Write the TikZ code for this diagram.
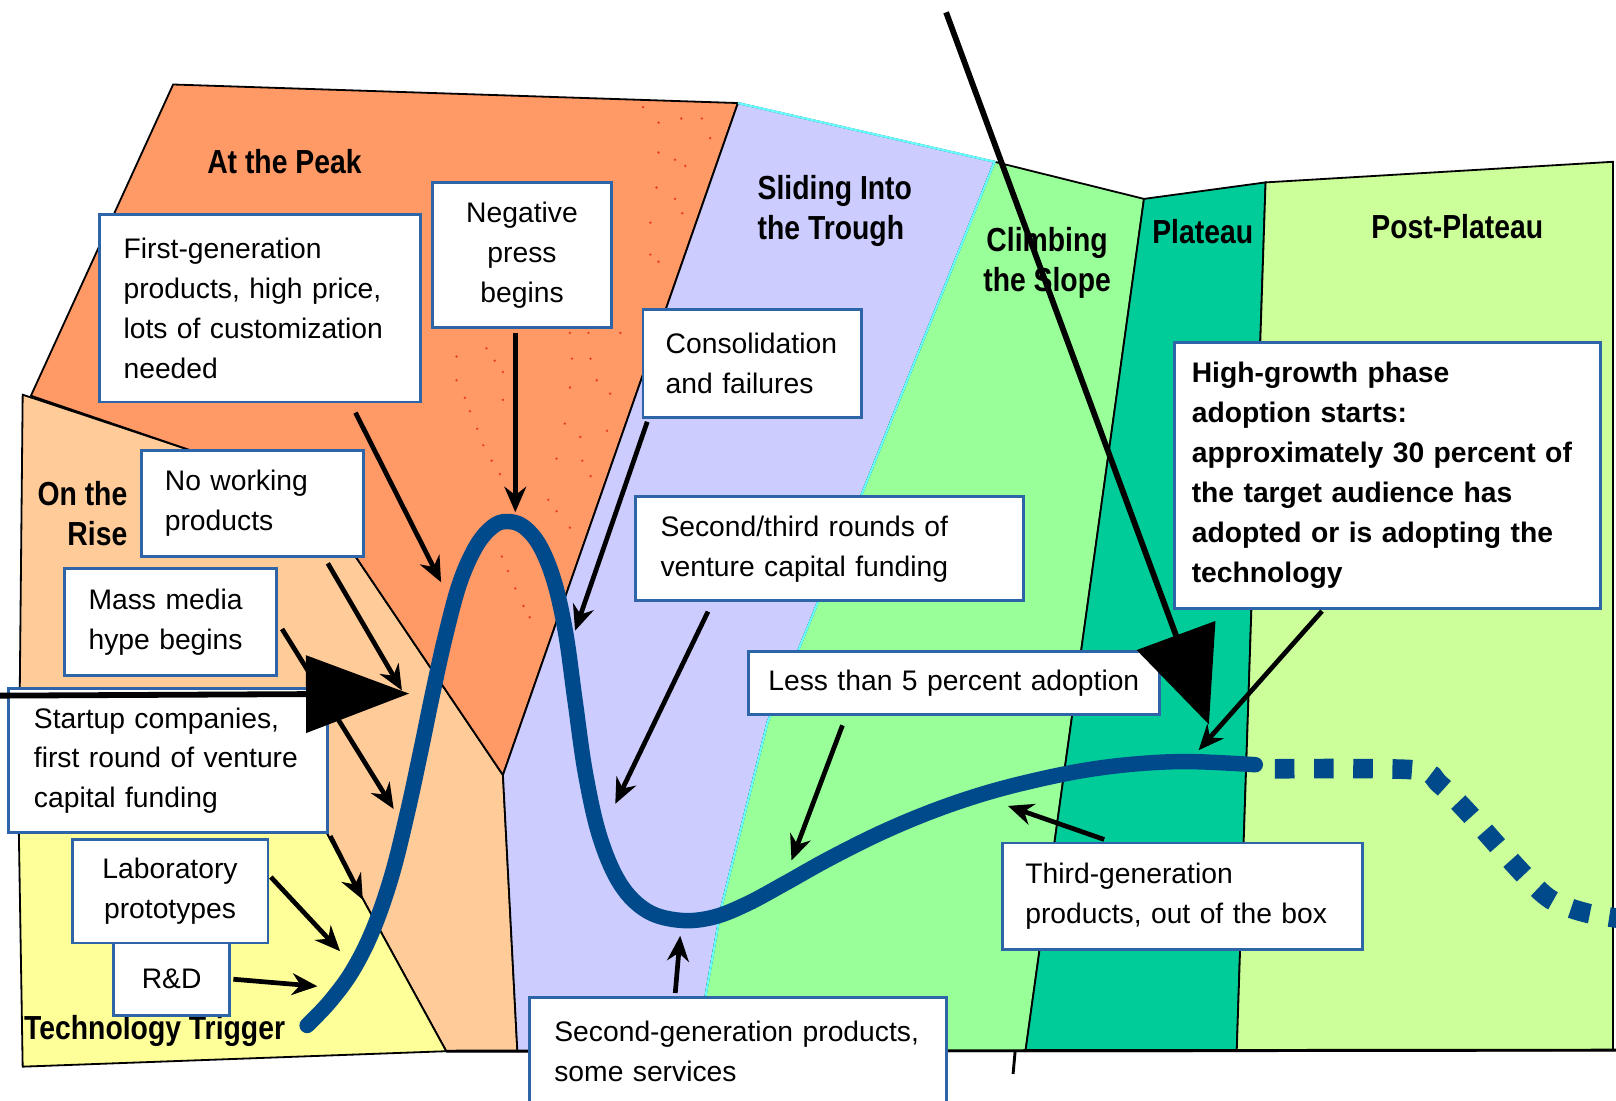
\documentclass[tikz,border=0pt]{standalone}
\usepackage{fontspec}
\setmainfont{Liberation Sans}
\newfontfamily\phasefont[FakeStretch=0.85]{Liberation Sans}
\usepackage{tikz}
\usetikzlibrary{calc,arrows.meta}

\definecolor{peakorange}{HTML}{FF9966}
\definecolor{risepeach}{HTML}{FFCC99}
\definecolor{triggeryellow}{HTML}{FFFF99}
\definecolor{troughlilac}{HTML}{CCCCFF}
\definecolor{slopegreen}{HTML}{99FF99}
\definecolor{plateauteal}{HTML}{00CC99}
\definecolor{postgreen}{HTML}{CCFF99}
\definecolor{hypeblue}{HTML}{004A8C}
\definecolor{boxblue}{HTML}{2E64A8}
\definecolor{edgecyan}{HTML}{66FFFF}
\definecolor{speckred}{HTML}{E8401C}

\begin{document}
\begin{tikzpicture}[x=0.01cm, y=-0.01cm,
	phase_area/.style={draw=black, line width=0.5pt},
	phase_label/.style={font=\phasefont\bfseries\fontsize{9.2}{11}\selectfont, align=center, inner sep=0pt},
	note_box/.style={draw=boxblue, line width=0.8pt, fill=white, inner ysep=0pt, font=\fontsize{7.8}{11}\selectfont, align=left},
	note_arrow/.style={-{Stealth[length=7pt,width=6pt]}, line width=1.3pt},
	big_arrow/.style={-{Triangle[length=1cm,width=0.74cm]}, line width=1.6pt},
	hype_line/.style={hypeblue, line width=0.15cm, line cap=round, line join=round},
	hype_dots/.style={hypeblue, line width=0.19cm, dash pattern=on 0.19cm off 0.19cm}
	]
	\useasboundingbox (0,0) rectangle (1568,1068);
	
	% --- 1. PHASE AREAS ---
	\filldraw[phase_area, fill=risepeach] (22,383) -- (185,437) -- (345,540) -- (488,752) -- (502,1020) -- (433,1020) -- (307,790) -- (18,790) -- cycle;
	\filldraw[phase_area, fill=triggeryellow] (18,790) -- (307,790) -- (433,1020) -- (22,1035) -- cycle;
	\filldraw[phase_area, fill=peakorange] (168,82) -- (716,100) -- (488,752) -- (345,540) -- (185,437) -- (30,384) -- cycle;
	\filldraw[phase_area, fill=troughlilac] (716,100) -- (965,157) -- (840,470) -- (775,630) -- (745,700) -- (700,880) -- (675,1020) -- (502,1020) -- (488,752) -- cycle;
	\filldraw[phase_area, fill=slopegreen] (965,157) -- (1110,193) -- (995,1020) -- (675,1020) -- (700,880) -- (745,700) -- (775,630) -- (840,470) -- cycle;
	\draw[edgecyan, line width=0.6pt] (716,100) -- (965,157) -- (840,470) -- (775,630) -- (745,700) -- (700,880) -- (675,1020);
	\filldraw[phase_area, fill=plateauteal] (1110,193) -- (1228,177) -- (1200,1020) -- (995,1020) -- cycle;
	\filldraw[phase_area, fill=postgreen] (1228,177) -- (1565,157) -- (1565,1019) -- (1200,1020) -- cycle;
	\draw[line width=0.8pt] (433,1020) -- (1568,1019);
	\draw[line width=0.8pt] (985,1020) -- (983,1042);
	
	% speckles in the peak area
	\foreach \sx/\sy in {624/104, 639/119, 661/115, 681/115, 639/148, 655/155, 665/161, 689/134,
		637/182, 655/193, 631/216, 662/207, 631/247, 639/254, 553/323, 571/323, 602/323,
		443/346, 472/338, 480/350, 488/361, 555/348, 573/348, 443/369, 451/386, 488/388,
		553/376, 579/369, 592/382, 456/399, 463/416, 469/432, 477/447, 485/460, 548/411,
		563/424, 589/418, 540/445, 565/447, 573/462, 532/485, 540/496, 553/512,
		487/540, 493/554, 500/571, 508/588, 514/599}
		\fill[speckred] (\sx,\sy) circle (1.3);
	
	% --- 2. PHASE NAMES ---
	\node[phase_label] (peak_lbl) at (276,157) {At the Peak};
	\node[phase_label, align=right] (rise_lbl) at (80,498) {On the\\Rise};
	\node[phase_label] (trigger_lbl) at (150,1000) {Technology Trigger};
	\node[phase_label, align=left] (trough_lbl) at (810,205) {Sliding Into\\the Trough};
	\node[phase_label] (slope_lbl) at (1016,255) {Climbing\\the Slope};
	\node[phase_label] (plateau_lbl) at (1167,225) {Plateau};
	\node[phase_label] (post_lbl) at (1414,220) {Post-Plateau};
	
	% --- 3. HYPE CURVE ---
	\draw[hype_line] plot[smooth, tension=0.6] coordinates {(298,995) (320,972) (342,942) (362,902) (380,850) (395,790) (408,730) (420,672) (432,618) (446,566) (462,530) (478,511) (492,506) (508,511) (524,530) (538,565) (549,615) (558,680) (568,750) (582,812) (602,858) (628,884) (660,893) (692,890) (725,877) (762,857) (805,833) (855,808) (905,787) (955,770) (1005,757) (1055,747) (1105,741) (1155,739) (1218,742)};
	\draw[hype_dots] plot[smooth, tension=0.5] coordinates {(1237,746) (1372,747) (1397,761) (1425,789) (1476,846) (1505,873) (1540,886) (1585,893)};
	
	% --- 4. NOTES ---
	\node[note_box, text width=2.65cm, inner xsep=0.23cm, minimum height=1.82cm] (firstgen) at (252.5,299) {First-generation\\products, high price,\\lots of customization\\needed};
	\node[note_box, align=center, text width=1.53cm, inner xsep=0.1cm, minimum height=1.41cm] (negative) at (506.5,247.5) {Negative\\press\\begins};
	\node[note_box, text width=1.68cm, inner xsep=0.22cm, minimum height=1.05cm] (consol) at (730,352.5) {Consolidation\\and failures};
	\node[note_box, text width=1.70cm, inner xsep=0.23cm, minimum height=1.03cm] (nowork) at (245,488.5) {No working\\products};
	\node[note_box, text width=1.59cm, inner xsep=0.23cm, minimum height=1.03cm] (mass) at (165.5,603.5) {Mass media\\hype begins};
	\node[note_box, text width=2.60cm, inner xsep=0.25cm, minimum height=1.40cm] (startup) at (163,738) {Startup companies,\\first round of venture\\capital funding};
	\node[note_box, align=center, text width=1.70cm, inner xsep=0.1cm, minimum height=1.00cm] (lab) at (165,865) {Laboratory\\prototypes};
	\node[note_box, align=center, text width=0.93cm, inner xsep=0.1cm, minimum height=0.70cm] (rd) at (166.5,950) {R\&D};
	\node[note_box, text width=3.28cm, inner xsep=0.24cm, minimum height=1.01cm] (secthird) at (805,532.5) {Second/third rounds of\\venture capital funding};
	\node[note_box, align=center, text width=3.79cm, inner xsep=0.1cm, minimum height=0.61cm] (less) at (925.5,662.5) {Less than 5 percent adoption};
	\node[note_box, text width=3.05cm, inner xsep=0.22cm, minimum height=1.03cm] (thirdgen) at (1147.5,869.5) {Third-generation\\products, out of the box};
	\node[note_box, text width=3.56cm, inner xsep=0.24cm, minimum height=1.04cm] (secgen) at (716,1020) {Second-generation products,\\some services};
	\node[note_box, font=\bfseries\fontsize{7.8}{11}\selectfont, text width=3.80cm, inner xsep=0.165cm, minimum height=2.58cm] (highgrowth) at (1346.5,461) {High-growth phase\\adoption starts:\\approximately 30 percent of\\the target audience has\\adopted or is adopting the\\technology};
	
	% --- 5. NOTE ARROWS ---
	\coordinate (firstgen_tip) at (428,565);
	\coordinate (negative_tip) at (500,497);
	\coordinate (consol_tip) at (558,612);
	\coordinate (nowork_tip) at (390,670);
	\coordinate (mass_tip) at (382,785);
	\coordinate (startup_tip) at (352,873);
	\coordinate (lab_tip) at (330,923);
	\coordinate (rd_tip) at (308,957);
	\coordinate (secthird_tip) at (597,780);
	\coordinate (less_tip) at (768,835);
	\coordinate (thirdgen_tip) at (978,782);
	\coordinate (secgen_tip) at (660,908);
	\coordinate (highgrowth_tip) at (1163,728);
	
	\draw[note_arrow, shorten <=0.1cm] ($(firstgen.south west)!0.78!(firstgen.south east)$) -- (firstgen_tip);
	\draw[note_arrow, shorten <=0.04cm] (negative.south -| negative_tip) -- (negative_tip);
	\draw[note_arrow, shorten <=0.03cm] ($(consol.south west)!0.03!(consol.south east)$) -- (consol_tip);
	\draw[note_arrow, shorten <=0.06cm] ($(nowork.south west)!0.82!(nowork.south east)$) -- (nowork_tip);
	\draw[note_arrow, shorten <=0.08cm] (mass.east) -- (mass_tip);
	\draw[note_arrow, shorten <=0.02cm] (startup.south east) -- (startup_tip);
	\draw[note_arrow, shorten <=0.02cm] ($(lab.north east)!0.35!(lab.south east)$) -- (lab_tip);
	\draw[note_arrow, shorten <=0.02cm] (rd.east) -- (rd_tip);
	\draw[note_arrow, shorten <=0.1cm] ($(secthird.south west)!0.2!(secthird.south east)$) -- (secthird_tip);
	\draw[note_arrow, shorten <=0.1cm] ($(less.south west)!0.24!(less.south east)$) -- (less_tip);
	\draw[note_arrow, shorten <=0.06cm] ($(thirdgen.north west)!0.3!(thirdgen.north east)$) -- (thirdgen_tip);
	\draw[note_arrow, shorten <=0.03cm] ($(secgen.north west)!0.35!(secgen.north east)$) -- (secgen_tip);
	\draw[note_arrow, shorten <=0.02cm] ($(highgrowth.south west)!0.35!(highgrowth.south east)$) -- (highgrowth_tip);
	
	% --- 6. BIG ARROWS ---
	\coordinate (hype_tail) at (0,675);
	\coordinate (hype_tip) at (397,673);
	\coordinate (plateau_tail) at (918,12);
	\coordinate (plateau_tip) at (1173,703);
	\draw[big_arrow] (hype_tail) -- (hype_tip);
	\draw[big_arrow, -{Triangle[length=0.92cm,width=0.8cm]}] (plateau_tail) -- (plateau_tip);
	
\end{tikzpicture}
\end{document}
